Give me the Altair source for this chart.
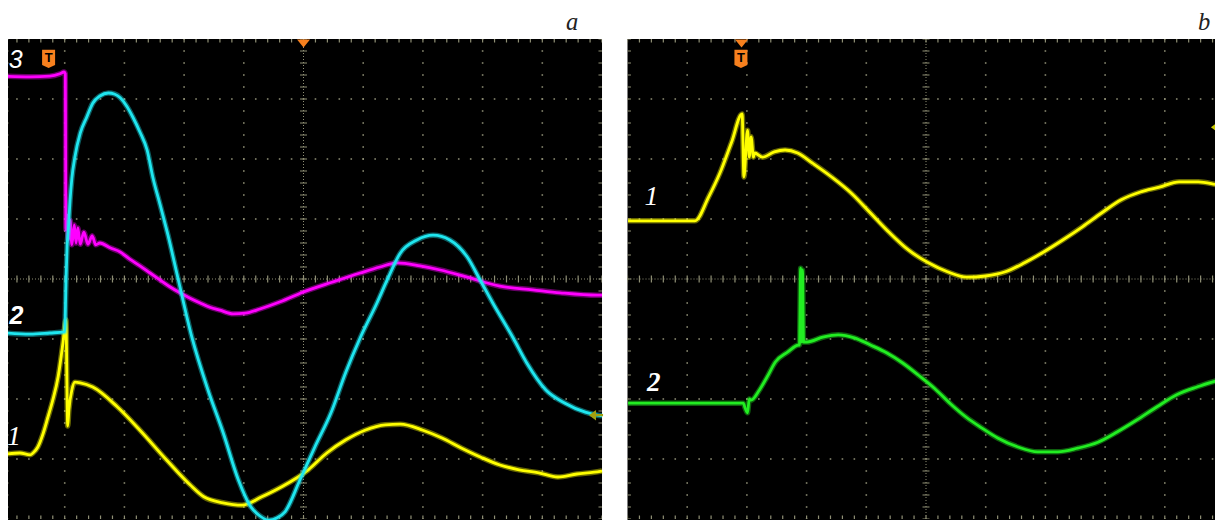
import altair as alt
import pandas as pd

# ---------------- data: time in divisions (0..10), signal in divisions (-4..4) -------------
# Panel a, trace 1 (yellow)
a1_t = [0.00, 0.25, 0.42, 0.47, 0.55, 0.64, 0.72, 0.80, 0.89, 0.97, 1.02, 1.05, 1.07, 1.12, 1.17,
        1.26, 1.47, 1.88, 2.26, 2.71, 3.10, 3.33, 3.65, 3.97, 4.30, 4.62, 5.08, 5.39, 5.71, 6.03,
        6.37, 6.62, 7.00, 7.32, 7.65, 7.97, 8.29, 8.61, 8.94, 9.26, 9.58, 9.87, 10.0]
a1_v = [-2.92, -2.90, -2.93, -2.90, -2.80, -2.57, -2.30, -2.02, -1.63, -1.07, -0.68, -2.45, -2.18, -1.85, -1.72,
        -1.73, -1.80, -2.13, -2.52, -3.02, -3.43, -3.63, -3.73, -3.77, -3.63, -3.47, -3.18, -2.90, -2.68, -2.52,
        -2.43, -2.42, -2.52, -2.65, -2.82, -2.97, -3.10, -3.18, -3.23, -3.30, -3.25, -3.22, -3.20]
# Panel a, trace 2 (cyan)
a2_t = [0.00, 0.42, 0.75, 1.00, 1.02, 1.04, 1.06, 1.09, 1.12, 1.17, 1.26, 1.37, 1.47, 1.59, 1.73,
        1.84, 1.93, 2.04, 2.14, 2.26, 2.38, 2.48, 2.60, 2.73, 2.90, 3.13, 3.40, 3.65, 3.91, 4.10,
        4.27, 4.42, 4.56, 4.69, 4.94, 5.19, 5.46, 5.71, 5.95, 6.23, 6.40, 6.62, 6.90, 7.17, 7.45,
        7.74, 7.96, 8.17, 8.51, 8.74, 9.06, 9.38, 9.72, 9.92, 10.0]
a2_v = [-0.90, -0.92, -0.90, -0.88, -0.10, 0.55, 0.82, 1.32, 1.68, 2.03, 2.43, 2.70, 2.93, 3.05, 3.10,
        3.08, 3.02, 2.88, 2.70, 2.45, 2.15, 1.68, 1.23, 0.73, 0.00, -0.97, -1.85, -2.55, -3.35, -3.77,
        -3.95, -4.02, -3.98, -3.88, -3.35, -2.80, -2.23, -1.55, -0.98, -0.40, -0.02, 0.43, 0.65, 0.73, 0.65,
        0.37, -0.02, -0.40, -0.98, -1.40, -1.85, -2.07, -2.22, -2.27, -2.28]
# Panel a, trace 3 (magenta)
a3_t = [0.00, 0.42, 0.75, 0.92, 0.99, 1.01, 1.02, 1.04, 1.06, 1.09, 1.12, 1.16, 1.19, 1.22, 1.26,
        1.32, 1.39, 1.46, 1.52, 1.59, 1.76, 1.93, 2.09, 2.26, 2.43, 2.60, 2.76, 2.93, 3.10, 3.27,
        3.43, 3.60, 3.82, 4.02, 4.27, 4.61, 4.99, 5.49, 5.95, 6.28, 6.57, 6.95, 7.29, 7.74, 8.29,
        8.84, 9.30, 9.92, 10.0]
a3_v = [3.38, 3.37, 3.38, 3.42, 3.45, 3.42, 0.82, 1.07, 0.65, 0.98, 0.57, 0.90, 0.60, 0.85, 0.58,
        0.78, 0.58, 0.72, 0.57, 0.60, 0.52, 0.45, 0.33, 0.22, 0.10, -0.02, -0.13, -0.23, -0.32, -0.40,
        -0.47, -0.52, -0.58, -0.57, -0.50, -0.38, -0.22, -0.05, 0.10, 0.20, 0.27, 0.22, 0.15, 0.03, -0.12,
        -0.18, -0.23, -0.27, -0.27]
# Panel b, trace 1 (yellow)
b1_t = [0.01, 0.55, 1.13, 1.36, 1.55, 1.74, 1.92, 1.95, 2.01, 2.04, 2.07, 2.11, 2.13, 2.26, 2.46,
        2.64, 2.85, 3.10, 3.42, 3.75, 4.07, 4.39, 4.71, 5.04, 5.36, 5.68, 6.00, 6.33, 6.65, 6.97,
        7.29, 7.62, 7.94, 8.27, 8.59, 8.91, 9.24, 9.56, 9.88, 10.0]
b1_v = [0.97, 0.97, 0.97, 1.37, 1.77, 2.27, 2.75, 1.70, 2.48, 2.03, 2.37, 2.03, 2.10, 2.03, 2.12,
        2.15, 2.10, 1.93, 1.70, 1.43, 1.10, 0.77, 0.48, 0.27, 0.12, 0.03, 0.05, 0.12, 0.27, 0.45,
        0.65, 0.87, 1.10, 1.32, 1.45, 1.53, 1.62, 1.62, 1.57, 1.55]
# Panel b, trace 2 (green)
b2_t = [0.01, 1.22, 1.94, 1.97, 2.01, 2.04, 2.07, 2.21, 2.34, 2.48, 2.68, 2.87, 2.88, 2.90, 2.92,
        2.93, 2.95, 3.01, 3.27, 3.53, 3.80, 4.07, 4.34, 4.61, 4.87, 5.14, 5.40, 5.67, 5.93, 6.20,
        6.54, 6.87, 7.21, 7.54, 7.88, 8.20, 8.53, 8.87, 9.20, 9.54, 9.94, 10.0]
b2_v = [-2.07, -2.07, -2.07, -2.15, -2.23, -2.00, -2.02, -1.85, -1.63, -1.38, -1.22, -1.10, -1.10, 0.18, -1.05,
        0.15, -1.05, -1.05, -0.97, -0.93, -0.98, -1.10, -1.23, -1.40, -1.60, -1.82, -2.07, -2.30, -2.48, -2.65,
        -2.80, -2.88, -2.88, -2.82, -2.72, -2.55, -2.35, -2.13, -1.93, -1.80, -1.68, -1.67]

# grid divisions
grid_t = [1, 2, 3, 4, 6, 7, 8, 9]
grid_v = [-3, -2, -1, 1, 2, 3]

# channel labels
a_lab_t, a_lab_v, a_lab_txt = [0.18, 0.19, 0.15], [3.65, -0.62, -2.63], ["3", "2", "1"]
b_lab_t, b_lab_v, b_lab_txt = [0.40, 0.44], [1.36, -1.74], ["1", "2"]

GRID = "#8f8f75"
ORANGE = "#f7801e"

TAG = "M-1,-1.4 L1,-1.4 L1,0.95 L0,1.4 L-1,0.95 Z"
TRI = "M-1,-0.6 L1,-0.6 L0,0.6 Z"
ARROW = "M-1,0 L0,-0.75 L0,0.75 Z M0,-0.16 L1,-0.16 L1,0.16 L0,0.16 Z"

# one shared coordinate system: panel b sits to the right of panel a
W, H = 1207, 512
PX = 59.7                       # pixels per division
T_MIN = 0.05                    # left edge of the drawing (panel a starts 3px off-page)
T_MAX = T_MIN + W / PX
V_MAX = 4 + 31 / 60.0           # room above the screens for the letters
V_MIN = V_MAX - H / 60.0
B_OFF = (627.5 - 8) / PX + T_MIN   # panel b offset, in divisions

xs = alt.Scale(domain=[T_MIN, T_MAX], nice=False, zero=False)
ys = alt.Scale(domain=[V_MIN, V_MAX], nice=False, zero=False)


def X(f):
    return alt.X(f"{f}:Q", scale=xs, axis=None)


def Y(f):
    return alt.Y(f"{f}:Q", scale=ys, axis=None)


def base(df, off, cols):
    c = alt.Chart(df)
    return c.transform_calculate(**{k + "_s": f"datum.{k} + {off}" for k in cols})


def panel(traces, off, labels, label_fonts, letter, letter_t, tag_t, tri_t, arrow_tv, arrow_color):
    hp = PX / 5.0
    vp = 12.0
    L = []
    scr = pd.DataFrame({"lo": [0], "hi": [10], "b": [-4.2], "t": [4]})
    L.append(base(scr, off, ["lo", "hi"]).mark_rect(color="black", clip=True)
             .encode(x=X("lo_s"), x2=alt.X2("hi_s:Q"), y=Y("b"), y2=alt.Y2("t:Q")))

    vg = pd.DataFrame({"t": grid_t, "lo": -4, "hi": 4})
    hg = pd.DataFrame({"v": grid_v, "lo": 0, "hi": 10})
    L.append(base(vg, off, ["t"]).mark_rule(color=GRID, strokeWidth=1.6, strokeDash=[1.6, vp - 1.6],
                                             strokeDashOffset=0.8, clip=True)
             .encode(x=X("t_s"), y=Y("lo"), y2=alt.Y2("hi:Q")))
    L.append(base(hg, off, ["lo", "hi"]).mark_rule(color=GRID, strokeWidth=1.6,
                                                    strokeDash=[1.6, hp - 1.6],
                                                    strokeDashOffset=0.8, clip=True)
             .encode(y=Y("v"), x=X("lo_s"), x2=alt.X2("hi_s:Q")))

    cv = pd.DataFrame({"t": [5], "lo": -4, "hi": 4})
    chh = pd.DataFrame({"v": [0], "lo": 0, "hi": 10})
    L.append(base(cv, off, ["t"]).mark_rule(color=GRID, strokeWidth=1, strokeDash=[1, 2], clip=True)
             .encode(x=X("t_s"), y=Y("lo"), y2=alt.Y2("hi:Q")))
    L.append(base(cv, off, ["t"]).mark_rule(color=GRID, strokeWidth=7, strokeDash=[1.2, vp - 1.2],
                                             strokeDashOffset=0.6, clip=True)
             .encode(x=X("t_s"), y=Y("lo"), y2=alt.Y2("hi:Q")))
    L.append(base(chh, off, ["lo", "hi"]).mark_rule(color=GRID, strokeWidth=1, strokeDash=[1, 2],
                                                     clip=True)
             .encode(y=Y("v"), x=X("lo_s"), x2=alt.X2("hi_s:Q")))
    L.append(base(chh, off, ["lo", "hi"]).mark_rule(color=GRID, strokeWidth=7,
                                                     strokeDash=[1.2, hp - 1.2],
                                                     strokeDashOffset=0.6, clip=True)
             .encode(y=Y("v"), x=X("lo_s"), x2=alt.X2("hi_s:Q")))
    # border rulers (only the inner half shows)
    ev = pd.DataFrame({"t": [0.03, 9.97], "lo": -4, "hi": 4})
    eh = pd.DataFrame({"v": [-3.97, 3.97], "lo": 0, "hi": 10})
    L.append(base(ev, off, ["t"]).mark_rule(color=GRID, strokeWidth=3.5, strokeDash=[1.2, vp - 1.2],
                                             strokeDashOffset=0.6, clip=True)
             .encode(x=X("t_s"), y=Y("lo"), y2=alt.Y2("hi:Q")))
    L.append(base(eh, off, ["lo", "hi"]).mark_rule(color=GRID, strokeWidth=3.5,
                                                    strokeDash=[1.2, hp - 1.2],
                                                    strokeDashOffset=0.6, clip=True)
             .encode(y=Y("v"), x=X("lo_s"), x2=alt.X2("hi_s:Q")))

    # traces: a soft halo plus a bright core, like the noisy scope trace
    for t, v, col in traces:
        d = pd.DataFrame({"t": t, "v": v, "i": list(range(len(t)))})
        L.append(base(d, off, ["t"]).mark_line(color=col, strokeWidth=5.5, opacity=0.4,
                                                strokeJoin="round", interpolate="monotone", clip=True)
                 .encode(x=X("t_s"), y=Y("v"), order="i:Q"))
        L.append(base(d, off, ["t"]).mark_line(color=col, strokeWidth=2.8, strokeJoin="round",
                                                interpolate="monotone", clip=True)
                 .encode(x=X("t_s"), y=Y("v"), order="i:Q"))

    tag = pd.DataFrame({"t": [tag_t], "v": [3.67], "s": ["T"]})
    L.append(base(tag, off, ["t"]).mark_point(shape=TAG, size=169, filled=True, opacity=1,
                                               color=ORANGE, clip=True).encode(x=X("t_s"), y=Y("v")))
    L.append(base(tag, off, ["t"]).mark_text(font="Liberation Sans", fontWeight="bold", fontSize=13,
                                              color="black", baseline="middle", align="center", dy=-1,
                                              clip=True)
             .encode(x=X("t_s"), y=Y("v"), text="s:N"))
    tri = pd.DataFrame({"t": [tri_t], "v": [3.925]})
    L.append(base(tri, off, ["t"]).mark_point(shape=TRI, size=169, filled=True, opacity=1,
                                               color=ORANGE, clip=True).encode(x=X("t_s"), y=Y("v")))
    arr = pd.DataFrame({"t": [arrow_tv[0]], "v": [arrow_tv[1]]})
    L.append(base(arr, off, ["t"]).mark_point(shape=ARROW, size=196, filled=True, opacity=1,
                                               color=arrow_color, clip=True)
             .encode(x=X("t_s"), y=Y("v")))

    lt, lv, ltxt = labels
    for i in range(len(lt)):
        font, weight, size = label_fonts[i]
        d = pd.DataFrame({"t": [lt[i]], "v": [lv[i]], "s": [ltxt[i]]})
        L.append(base(d, off, ["t"]).mark_text(font=font, fontStyle="italic", fontWeight=weight,
                                                fontSize=size, color="white", baseline="middle",
                                                align="center", clip=True)
                 .encode(x=X("t_s"), y=Y("v"), text="s:N"))

    d = pd.DataFrame({"t": [letter_t], "v": [4.15], "s": [letter]})
    L.append(base(d, off, ["t"]).mark_text(font="Liberation Serif", fontStyle="italic", fontSize=24.5,
                                            color="#222222", baseline="alphabetic", align="center")
             .encode(x=X("t_s"), y=Y("v"), text="s:N"))
    return L


layers = []
layers += panel([(a1_t, a1_v, "#ffff00"), (a3_t, a3_v, "#ff00ff"), (a2_t, a2_v, "#1fe6ef")], 0.0,
                (a_lab_t, a_lab_v, a_lab_txt),
                [("Liberation Sans", "normal", 25), ("Liberation Sans", "bold", 25),
                 ("Liberation Serif", "normal", 28)],
                "a", 9.50, 0.73, 5.0, (9.90, -2.27), "#a0a010")
layers += panel([(b1_t, b1_v, "#ffff00"), (b2_t, b2_v, "#22ee22")], B_OFF,
                (b_lab_t, b_lab_v, b_lab_txt),
                [("Liberation Serif", "normal", 28), ("Liberation Serif", "bold", 27)],
                "b", 9.66, 1.90, 1.91, (9.89, 2.53), "#c8c800")

chart = (alt.layer(*layers)
         .properties(width=W, height=H, padding=0, background="white",
                     autosize=alt.AutoSizeParams(type="fit", contains="padding"))
         .configure_view(fill="white", stroke=None))

chart.save("out.html", embed_options={"renderer": "svg", "actions": False})
